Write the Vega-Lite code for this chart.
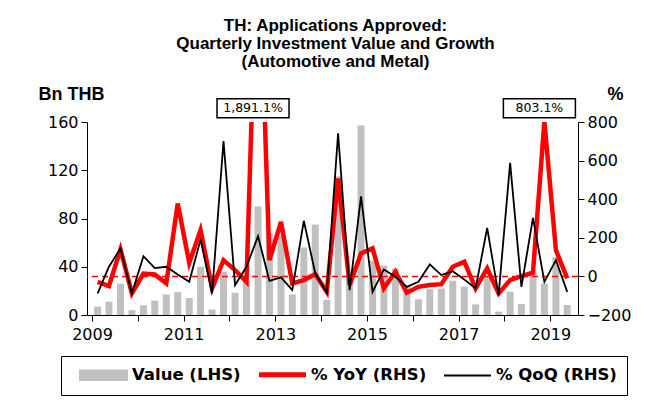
{
  "$schema": "https://vega.github.io/schema/vega-lite/v6.json",
  "autosize": "none",
  "width": 491,
  "height": 193,
  "padding": {"left": 87, "top": 122, "right": 90, "bottom": 86},
  "background": "white",
  "title": {
    "text": ["TH: Applications Approved:", "Quarterly Investment Value and Growth", "(Automotive and Metal)"],
    "anchor": "middle",
    "frame": "group",
    "font": "Liberation Sans",
    "fontSize": 17,
    "fontWeight": "bold",
    "color": "black",
    "lineHeight": 18,
    "offset": 14,
    "dx": 3
  },
  "config": {
    "view": {"stroke": null},
    "axis": {
      "grid": false,
      "domainColor": "black",
      "tickColor": "black",
      "labelColor": "black",
      "labelFont": "DejaVu Sans",
      "labelFontSize": 16,
      "labelOverlap": false,
      "tickSize": 6,
      "titleFont": "Liberation Sans",
      "titleFontSize": 18,
      "titleFontWeight": "bold",
      "titleColor": "black"
    },
    "legend": {
      "orient": "none",
      "legendX": -26,
      "legendY": 234,
      "direction": "horizontal",
      "strokeColor": "black",
      "strokeWidth": 1,
      "padding": 10,
      "symbolSize": 2209,
      "symbolType": "stroke",
      "labelFont": "DejaVu Sans",
      "labelFontSize": 16.5,
      "labelFontWeight": "bold",
      "labelColor": "black",
      "labelOffset": 5,
      "columnPadding": 8,
      "title": null
    }
  },
  "datasets": {
    "main": [
      {"q": "2009-02-15", "value": 7, "yoy": -28, "qoq": -88},
      {"q": "2009-05-16", "value": 11, "yoy": -50, "qoq": 50},
      {"q": "2009-08-16", "value": 26, "yoy": 140, "qoq": 145},
      {"q": "2009-11-15", "value": 4, "yoy": -88, "qoq": -88},
      {"q": "2010-02-15", "value": 8, "yoy": 15, "qoq": 105},
      {"q": "2010-05-16", "value": 12, "yoy": 10, "qoq": 43},
      {"q": "2010-08-16", "value": 17, "yoy": -36, "qoq": 50},
      {"q": "2010-11-15", "value": 19, "yoy": 378, "qoq": 10},
      {"q": "2011-02-15", "value": 14, "yoy": 70, "qoq": -28},
      {"q": "2011-05-16", "value": 40, "yoy": 240, "qoq": 191},
      {"q": "2011-08-16", "value": 4.5, "yoy": -62, "qoq": -88},
      {"q": "2011-11-15", "value": 36, "yoy": 84, "qoq": 701},
      {"q": "2012-02-15", "value": 18.5, "yoy": 33, "qoq": -45},
      {"q": "2012-05-16", "value": 28, "yoy": -28, "qoq": 50},
      {"q": "2012-08-16", "value": 90, "yoy": 1891.1, "qoq": 208},
      {"q": "2012-11-15", "value": 68, "yoy": 84, "qoq": -23},
      {"q": "2013-02-15", "value": 66, "yoy": 282, "qoq": -5},
      {"q": "2013-05-16", "value": 17, "yoy": -36, "qoq": -71},
      {"q": "2013-08-16", "value": 56, "yoy": -19, "qoq": 288},
      {"q": "2013-11-15", "value": 75, "yoy": 12, "qoq": 16},
      {"q": "2014-02-15", "value": 12.4, "yoy": -80, "qoq": -85},
      {"q": "2014-05-16", "value": 115, "yoy": 507, "qoq": 741},
      {"q": "2014-08-16", "value": 31, "yoy": -45, "qoq": -71},
      {"q": "2014-11-15", "value": 157, "yoy": 119, "qoq": 415},
      {"q": "2015-02-15", "value": 45, "yoy": 145, "qoq": -80},
      {"q": "2015-05-16", "value": 41, "yoy": -62, "qoq": 36},
      {"q": "2015-08-16", "value": 38.6, "yoy": 24, "qoq": -2},
      {"q": "2015-11-15", "value": 24, "yoy": -85, "qoq": -54},
      {"q": "2016-02-15", "value": 13, "yoy": -54, "qoq": -28},
      {"q": "2016-05-16", "value": 21.5, "yoy": -45, "qoq": 62},
      {"q": "2016-08-16", "value": 22, "yoy": -40, "qoq": 7},
      {"q": "2016-11-15", "value": 28.4, "yoy": 50, "qoq": 27},
      {"q": "2017-02-15", "value": 23.4, "yoy": 76, "qoq": -16},
      {"q": "2017-05-16", "value": 8.8, "yoy": -62, "qoq": -62},
      {"q": "2017-08-16", "value": 32, "yoy": 41, "qoq": 251},
      {"q": "2017-11-15", "value": 2.8, "yoy": -88, "qoq": -97},
      {"q": "2018-02-15", "value": 19.3, "yoy": -19, "qoq": 588},
      {"q": "2018-05-16", "value": 9.1, "yoy": 1, "qoq": -54},
      {"q": "2018-08-16", "value": 36, "yoy": 19, "qoq": 303},
      {"q": "2018-11-15", "value": 26, "yoy": 803.1, "qoq": -28},
      {"q": "2019-02-15", "value": 48, "yoy": 136, "qoq": 84},
      {"q": "2019-05-16", "value": 8.3, "yoy": -10, "qoq": -80}
    ],
    "notes": [
      {"q": "2012-08-16", "label": "1,891.1%"},
      {"q": "2018-11-15", "label": "803.1%"}
    ]
  },
  "layer": [
    {
      "data": {"name": "main"},
      "mark": {"type": "bar", "width": 7},
      "encoding": {
        "x": {
          "field": "q",
          "type": "temporal",
          "scale": {"domain": [{"year": 2009, "month": 1, "date": 1}, {"year": 2019, "month": 7, "date": 1}]},
          "axis": {
            "title": null,
            "values": [{"year": 2009}, {"year": 2010}, {"year": 2011}, {"year": 2012}, {"year": 2013}, {"year": 2014}, {"year": 2015}, {"year": 2016}, {"year": 2017}, {"year": 2018}, {"year": 2019}],
            "labelExpr": "year(datum.value) % 2 === 1 ? timeFormat(datum.value, '%Y') : ''",
            "labelPadding": 5,
            "labelOverlap": false,
            "labelFlush": false
          }
        },
        "y": {
          "field": "value",
          "type": "quantitative",
          "scale": {"domain": [0, 160], "nice": false},
          "axis": {
            "values": [0, 40, 80, 120, 160],
            "labelOverlap": false,
            "title": "Bn THB",
            "titleAngle": 0,
            "titleAlign": "left",
            "titleBaseline": "alphabetic",
            "titleX": -49,
            "titleY": -23,
            "labelPadding": 3
          }
        },
        "color": {
          "datum": "Value (LHS)",
          "type": "nominal",
          "scale": {"domain": ["Value (LHS)", "% YoY (RHS)", "% QoQ (RHS)"], "range": ["#c0c0c0", "#ff0000", "#000000"]},
          "legend": {
            "encode": {
              "symbols": {
                "update": {
                  "x": {"value": 32.5},
                  "shape": {"signal": "datum.label === 'Value (LHS)' ? 'M-1,-0.2H1V0.2H-1Z' : 'stroke'"},
                  "fill": {"signal": "datum.label === 'Value (LHS)' ? '#c0c0c0' : 'transparent'"},
                  "stroke": {"signal": "datum.label === 'Value (LHS)' ? 'transparent' : (datum.label === '% YoY (RHS)' ? '#ff0000' : '#000000')"},
                  "strokeWidth": {"signal": "datum.label === '% YoY (RHS)' ? 5 : 2"}
                }
              },
              "labels": {
                "update": {
                  "x": {"value": 61}
                }
              }
            }
          }
        }
      }
    },
    {
      "layer": [
        {
          "data": {"values": [{}]},
          "mark": {"type": "rule", "color": "#ff0000", "strokeWidth": 1.5, "strokeDash": [6, 4]},
          "encoding": {
            "y": {
              "datum": 0,
              "type": "quantitative",
              "scale": {"domain": [-200, 800], "nice": false},
              "axis": {
                "orient": "right",
                "values": [-200, 0, 200, 400, 600, 800],
                "labelOverlap": false,
                "title": "%",
                "titleAngle": 0,
                "titleAlign": "left",
                "titleBaseline": "alphabetic",
                "titleX": 29,
                "titleY": -23,
                "labelPadding": 3
              }
            }
          }
        },
        {
          "data": {"name": "main"},
          "mark": {"type": "line", "color": "#ff0000", "strokeWidth": 4.5, "clip": true},
          "encoding": {
            "x": {"field": "q", "type": "temporal"},
            "y": {
              "field": "yoy",
              "type": "quantitative",
              "axis": {
                "orient": "right",
                "values": [-200, 0, 200, 400, 600, 800],
                "labelOverlap": false,
                "title": "%",
                "titleAngle": 0,
                "titleAlign": "left",
                "titleBaseline": "alphabetic",
                "titleX": 29,
                "titleY": -23,
                "labelPadding": 3
              }
            },
            "color": {"datum": "% YoY (RHS)", "type": "nominal"}
          }
        },
        {
          "data": {"name": "main"},
          "mark": {"type": "line", "color": "#000000", "strokeWidth": 1.8, "clip": true},
          "encoding": {
            "x": {"field": "q", "type": "temporal"},
            "y": {
              "field": "qoq",
              "type": "quantitative",
              "axis": {
                "orient": "right",
                "values": [-200, 0, 200, 400, 600, 800],
                "labelOverlap": false,
                "title": "%",
                "titleAngle": 0,
                "titleAlign": "left",
                "titleBaseline": "alphabetic",
                "titleX": 29,
                "titleY": -23,
                "labelPadding": 3
              }
            },
            "color": {"datum": "% QoQ (RHS)", "type": "nominal"}
          }
        },
        {
          "data": {"name": "notes"},
          "mark": {"type": "rect", "width": 72, "height": 19, "fill": "white", "stroke": "black", "strokeWidth": 1.5, "xOffset": -5},
          "encoding": {
            "x": {"field": "q", "type": "temporal"},
            "y": {
              "datum": 871,
              "type": "quantitative",
              "axis": {
                "orient": "right",
                "values": [-200, 0, 200, 400, 600, 800],
                "labelOverlap": false,
                "title": "%",
                "titleAngle": 0,
                "titleAlign": "left",
                "titleBaseline": "alphabetic",
                "titleX": 29,
                "titleY": -23,
                "labelPadding": 3
              }
            }
          }
        },
        {
          "data": {"name": "notes"},
          "mark": {"type": "text", "font": "DejaVu Sans", "fontSize": 12.5, "color": "black", "dx": -5, "baseline": "middle", "align": "center"},
          "encoding": {
            "x": {"field": "q", "type": "temporal"},
            "y": {
              "datum": 871,
              "type": "quantitative",
              "axis": {
                "orient": "right",
                "values": [-200, 0, 200, 400, 600, 800],
                "labelOverlap": false,
                "title": "%",
                "titleAngle": 0,
                "titleAlign": "left",
                "titleBaseline": "alphabetic",
                "titleX": 29,
                "titleY": -23,
                "labelPadding": 3
              }
            },
            "text": {"field": "label"}
          }
        }
      ]
    }
  ],
  "resolve": {"scale": {"y": "independent"}}
}
